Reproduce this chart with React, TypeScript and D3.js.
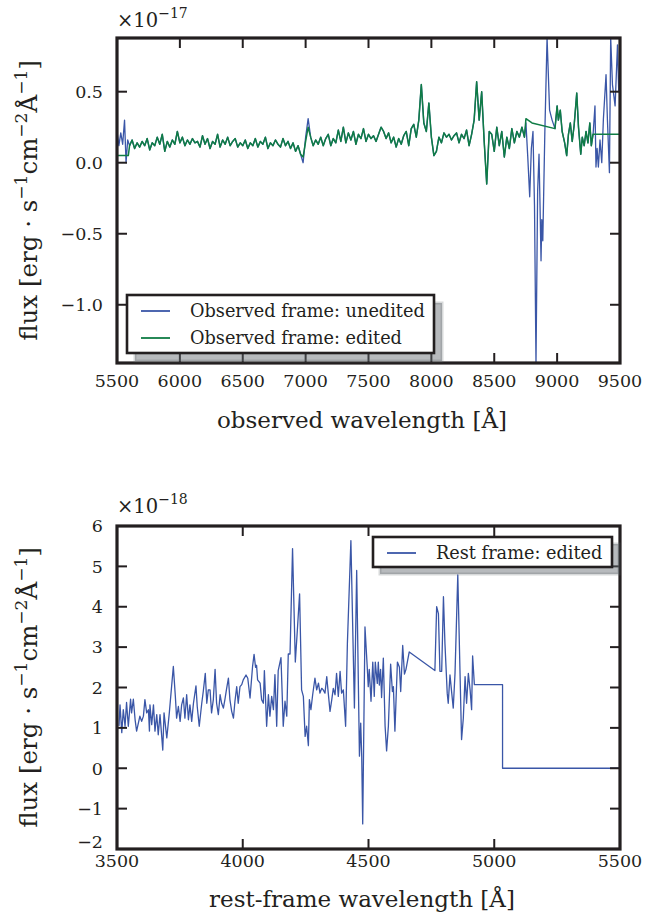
import React from 'react';
import * as d3 from 'd3';

const FONT = "'DejaVu Serif', serif";
const INK = '#231f20';
const BLUE = '#3a56a7';
const GREEN = '#0f7c45';

// ---------- top panel (flux in units of 1e-17) ----------
const obsXTicks = [5500, 6000, 6500, 7000, 7500, 8000, 8500, 9000, 9500];
const obsYTicks = [-1.0, -0.5, 0.0, 0.5];
const obsYDomain = [-1.41, 0.878];

const obsHeadBlue = [[5500, 0.22], [5515, 0.12], [5530, 0.21], [5545, 0.13], [5560, 0.30], [5572, 0.0], [5585, 0.16]];
const obsHeadGreen = [[5500, 0.05], [5590, 0.05]];

const obsShared = [
  [5600, 0.12], [5620, 0.16], [5640, 0.10], [5660, 0.14], [5680, 0.11], [5700, 0.15], [5720, 0.12], [5740, 0.17],
  [5760, 0.09], [5780, 0.14], [5800, 0.12], [5820, 0.18], [5840, 0.13], [5860, 0.20], [5880, 0.08], [5900, 0.15],
  [5920, 0.11], [5940, 0.16], [5960, 0.13], [5980, 0.22], [6000, 0.14], [6020, 0.18], [6040, 0.12], [6060, 0.16],
  [6080, 0.13], [6100, 0.17], [6120, 0.14], [6140, 0.15], [6160, 0.11], [6180, 0.19], [6200, 0.13], [6220, 0.17],
  [6240, 0.10], [6260, 0.15], [6280, 0.13], [6300, 0.20], [6320, 0.11], [6340, 0.16], [6360, 0.13], [6380, 0.18],
  [6400, 0.12], [6420, 0.15], [6440, 0.17], [6460, 0.11], [6480, 0.14], [6500, 0.12], [6520, 0.16], [6540, 0.10],
  [6560, 0.14], [6580, 0.12], [6600, 0.17], [6620, 0.11], [6640, 0.15], [6660, 0.13], [6680, 0.18], [6700, 0.10],
  [6720, 0.14], [6740, 0.12], [6760, 0.16], [6780, 0.13], [6800, 0.11], [6820, 0.17], [6840, 0.12], [6860, 0.15],
  [6880, 0.10], [6900, 0.14], [6920, 0.08], [6940, 0.12], [6960, 0.06], [6980, 0.04], [7000, 0.15], [7020, 0.25],
  [7040, 0.18], [7060, 0.12], [7080, 0.16], [7100, 0.13], [7120, 0.18], [7140, 0.12], [7160, 0.17], [7180, 0.20],
  [7200, 0.12], [7220, 0.17], [7240, 0.14], [7260, 0.23], [7280, 0.15], [7300, 0.25], [7320, 0.14], [7340, 0.21],
  [7360, 0.16], [7380, 0.22], [7400, 0.13], [7420, 0.20], [7440, 0.17], [7460, 0.24], [7480, 0.15], [7500, 0.20],
  [7520, 0.17], [7540, 0.19], [7560, 0.15], [7580, 0.20], [7600, 0.25], [7620, 0.22], [7640, 0.17], [7660, 0.21],
  [7680, 0.14], [7700, 0.18], [7720, 0.11], [7740, 0.17], [7760, 0.13], [7780, 0.19], [7800, 0.22], [7820, 0.12],
  [7840, 0.24], [7860, 0.27], [7880, 0.18], [7900, 0.30], [7920, 0.55], [7940, 0.28], [7960, 0.22], [7980, 0.42],
  [8000, 0.18], [8020, 0.05], [8040, 0.08], [8060, 0.18], [8080, 0.14], [8100, 0.21], [8120, 0.18], [8140, 0.20],
  [8160, 0.16], [8180, 0.19], [8200, 0.21], [8220, 0.14], [8240, 0.20], [8260, 0.17], [8280, 0.23], [8300, 0.12],
  [8320, 0.20], [8340, 0.30], [8360, 0.57], [8380, 0.30], [8400, 0.50], [8420, 0.15], [8440, -0.15], [8460, 0.22],
  [8480, 0.20], [8500, 0.08], [8520, 0.25], [8540, 0.12], [8560, 0.22], [8580, 0.04], [8600, 0.18], [8620, 0.10],
  [8640, 0.24], [8660, 0.14], [8680, 0.22], [8700, 0.18], [8720, 0.25], [8740, 0.18],
];
const obsBlueFix = [[6980, 0.0], [7000, 0.18], [7020, 0.31]];

const obsGapBlue = [
  [8752, 0.28], [8766, 0.05], [8782, -0.24], [8795, 0.10], [8808, 0.22], [8820, -0.30], [8832, -1.41], [8845, -0.20],
  [8856, 0.06], [8864, -0.30], [8872, -0.69], [8878, -0.40], [8886, -0.55], [8902, 0.20], [8920, 0.88], [8940, 0.37],
  [8960, 0.30], [8983, 0.24],
];
const obsGapGreen = [[8752, 0.31], [8800, 0.28], [8983, 0.24]];

const obsMid = [
  [9000, 0.40], [9010, 0.30], [9025, 0.37], [9040, 0.22], [9060, 0.14], [9076, 0.05], [9090, 0.20], [9105, 0.28],
  [9120, 0.15], [9135, 0.26], [9156, 0.49], [9170, 0.25], [9188, 0.06], [9200, 0.18], [9215, 0.12], [9230, 0.22],
  [9245, 0.14], [9260, 0.28], [9272, 0.12],
];
const obsEndBlue = [
  [9286, 0.20], [9301, 0.40], [9309, -0.03], [9318, 0.10], [9328, -0.03], [9341, 0.16], [9355, 0.0], [9368, 0.31],
  [9389, 0.62], [9400, 0.30], [9416, -0.07], [9426, 0.88], [9440, 0.55], [9461, 0.40], [9480, 0.83], [9490, 0.50],
  [9500, 0.65],
];
const obsEndGreen = [[9285, 0.20], [9500, 0.20]];

// ---------- bottom panel (flux in units of 1e-18) ----------
const restXTicks = [3500, 4000, 4500, 5000, 5500];
const restYTicks = [-2, -1, 0, 1, 2, 3, 4, 5, 6];
const restYDomain = [-2, 6];
const restSpectrum = [
  [3508, 1.05], [3512, 1.57], [3519, 0.88], [3525, 1.45], [3532, 1.04], [3538, 1.63], [3545, 1.04], [3554, 1.71],
  [3558, 1.37], [3565, 1.71], [3572, 1.20], [3578, 0.92], [3591, 1.29], [3598, 1.16], [3605, 1.29], [3611, 1.70],
  [3618, 1.37], [3625, 1.45], [3629, 0.92], [3631, 1.57], [3638, 1.08], [3645, 1.57], [3651, 0.92], [3658, 1.33],
  [3664, 0.83], [3671, 1.33], [3682, 0.45], [3687, 1.37], [3698, 0.75], [3708, 1.37], [3724, 2.52], [3732, 1.78],
  [3737, 1.24], [3744, 1.53], [3751, 1.16], [3757, 1.57], [3764, 1.74], [3770, 1.24], [3777, 1.82], [3784, 1.20],
  [3790, 1.57], [3797, 1.16], [3804, 1.61], [3814, 2.04], [3819, 1.53], [3827, 1.04], [3837, 1.61], [3843, 1.90],
  [3851, 2.35], [3857, 1.61], [3863, 1.94], [3870, 1.94], [3876, 1.37], [3883, 1.70], [3890, 2.45], [3896, 1.61],
  [3903, 1.33], [3910, 1.82], [3916, 1.61], [3923, 1.49], [3929, 1.70], [3936, 1.98], [3943, 2.23], [3949, 1.70],
  [3956, 1.41], [3963, 1.24], [3969, 1.66], [3976, 2.02], [3982, 1.61], [3989, 2.02], [3996, 2.07], [4002, 2.19],
  [4013, 2.31], [4020, 2.23], [4029, 1.74], [4039, 2.52], [4045, 2.82], [4051, 2.50], [4055, 2.55], [4059, 2.19],
  [4069, 2.11], [4075, 1.70], [4082, 1.61], [4086, 2.42], [4095, 1.04], [4102, 1.82], [4108, 1.29], [4115, 1.78],
  [4122, 1.45], [4128, 2.32], [4135, 1.04], [4141, 2.42], [4152, 2.74], [4161, 1.04], [4168, 1.66], [4175, 1.29],
  [4181, 2.83], [4188, 2.83], [4198, 5.44], [4209, 2.63], [4217, 3.41], [4226, 4.32], [4234, 1.94], [4241, 1.78],
  [4248, 0.79], [4254, 1.04], [4261, 0.56], [4265, 1.70], [4271, 1.45], [4278, 1.82], [4287, 2.23], [4294, 1.94],
  [4301, 2.11], [4307, 1.86], [4314, 1.98], [4320, 1.94], [4327, 1.86], [4334, 2.27], [4340, 1.86], [4347, 1.41],
  [4354, 1.70], [4360, 1.98], [4367, 1.82], [4373, 2.35], [4380, 1.78], [4387, 2.40], [4393, 1.86], [4400, 1.94],
  [4409, 1.04], [4416, 3.08], [4430, 5.64], [4444, 1.49], [4453, 4.90], [4464, 0.30], [4469, 1.12], [4473, 0.30],
  [4477, -1.38], [4486, 3.50], [4495, 2.50], [4499, 2.02], [4503, 2.45], [4510, 1.66], [4517, 2.63], [4523, 1.78],
  [4527, 2.63], [4535, 2.10], [4539, 2.63], [4543, 2.06], [4548, 2.45], [4552, 1.75], [4559, 2.73], [4566, 1.04],
  [4572, 0.43], [4579, 1.04], [4588, 2.58], [4595, 1.90], [4599, 2.02], [4605, 0.92], [4615, 2.63], [4623, 2.50],
  [4628, 1.90], [4636, 3.04], [4643, 2.33], [4649, 2.45], [4662, 2.88], [4764, 2.42], [4771, 4.00], [4778, 3.83],
  [4784, 2.40], [4791, 2.40], [4798, 4.25], [4804, 3.08], [4813, 1.86], [4817, 1.61], [4824, 2.31], [4831, 1.86],
  [4837, 1.49], [4844, 2.35], [4855, 4.79], [4870, 0.71], [4877, 1.24], [4884, 2.27], [4890, 1.61], [4897, 2.35],
  [4904, 1.94], [4910, 1.45], [4914, 2.78], [4921, 2.07], [5033, 2.07], [5033, 0.0], [5500, 0.0],
];

const fmtMinus = (s: string) => s.replace('-', '\u2212');

type Rect = { left: number; right: number; top: number; bottom: number };
type Series = { data: number[][]; color: string; width: number };
type LegendSpec = { x: number; y: number; w: number; h: number; shadow: number; items: { label: string; color: string }[] };

function Panel(props: {
  id: string;
  rect: Rect;
  xDomain: number[];
  yDomain: number[];
  xTicks: number[];
  yTicks: number[];
  yFmt: (v: number) => string;
  series: Series[];
  xTickBaseline: number;
  xlabel: string;
  xlabelBaseline: number;
  exponent: string;
  expBaseline: number;
  legend: LegendSpec;
}) {
  const { id, rect, xDomain, yDomain, xTicks, yTicks, yFmt, series, legend } = props;
  const x = d3.scaleLinear().domain(xDomain).range([rect.left, rect.right]);
  const y = d3.scaleLinear().domain(yDomain).range([rect.bottom, rect.top]);
  const line = d3.line<number[]>().x((d) => x(d[0])).y((d) => y(d[1]));
  const TL = 10;
  const cy = (rect.top + rect.bottom) / 2;
  const sup = 17;
  const sh = 10;
  return (
    <g>
      <defs>
        <clipPath id={id}>
          <rect x={rect.left} y={rect.top} width={rect.right - rect.left} height={rect.bottom - rect.top} />
        </clipPath>
      </defs>
      <g clipPath={`url(#${id})`}>
        {series.map((s, i) => (
          <path key={i} d={line(s.data) || ''} fill="none" stroke={s.color} strokeWidth={s.width} strokeLinejoin="round" />
        ))}
      </g>
      {/* ticks */}
      {xTicks.map((t) => (
        <g key={'xt' + t}>
          <line x1={x(t)} x2={x(t)} y1={rect.bottom} y2={rect.bottom - TL} stroke={INK} strokeWidth={2} />
          <line x1={x(t)} x2={x(t)} y1={rect.top} y2={rect.top + TL} stroke={INK} strokeWidth={2} />
          <text x={x(t)} y={props.xTickBaseline} textAnchor="middle" fontSize={17.5} fontFamily={FONT} fill={INK}>
            {t}
          </text>
        </g>
      ))}
      {yTicks.map((t) => (
        <g key={'yt' + t}>
          <line x1={rect.left} x2={rect.left + TL} y1={y(t)} y2={y(t)} stroke={INK} strokeWidth={2} />
          <line x1={rect.right} x2={rect.right - TL} y1={y(t)} y2={y(t)} stroke={INK} strokeWidth={2} />
          <text
            x={103}
            y={Math.min(y(t), rect.bottom - 7)}
            dy="0.36em"
            textAnchor="end"
            fontSize={17.5}
            fontFamily={FONT}
            fill={INK}
          >
            {yFmt(t)}
          </text>
        </g>
      ))}
      <rect x={rect.left} y={rect.top} width={rect.right - rect.left} height={rect.bottom - rect.top} fill="none" stroke={INK} strokeWidth={3.2} />
      {/* exponent */}
      <text x={rect.left} y={props.expBaseline} fontSize={19.5} fontFamily={FONT} fill={INK}>
        {'\u00d710'}
        <tspan dy={-9} fontSize={14}>{props.exponent}</tspan>
      </text>
      {/* x label */}
      <text x={362} y={props.xlabelBaseline} textAnchor="middle" fontSize={23} fontFamily={FONT} fill={INK}>
        {props.xlabel}
      </text>
      {/* y label */}
      <text transform={`translate(37,${cy}) rotate(-90)`} textAnchor="middle" fontSize={24.5} fontFamily={FONT} fill={INK}>
        {'flux [erg \u00b7 s'}
        <tspan dy={-sh} fontSize={sup}>{'\u22121'}</tspan>
        <tspan dy={sh}>cm</tspan>
        <tspan dy={-sh} fontSize={sup}>{'\u22122'}</tspan>
        <tspan dy={sh}>{'\u00c5'}</tspan>
        <tspan dy={-sh} fontSize={sup}>{'\u22121'}</tspan>
        <tspan dy={sh}>]</tspan>
      </text>
      {/* legend */}
      <g>
        <rect
          x={legend.x + legend.shadow}
          y={legend.y + legend.shadow}
          width={legend.w}
          height={legend.h}
          fill="#5f666d"
          fillOpacity={0.45}
          stroke="#5f666d"
          strokeOpacity={0.25}
          strokeWidth={3}
        />
        <rect x={legend.x} y={legend.y} width={legend.w} height={legend.h} fill="#ffffff" stroke={INK} strokeWidth={2.6} />
        {legend.items.map((it, i) => (
          <g key={it.label}>
            <line
              x1={legend.x + 14}
              x2={legend.x + 43}
              y1={legend.y + 16 + i * 27}
              y2={legend.y + 16 + i * 27}
              stroke={it.color}
              strokeWidth={1.8}
            />
            <text x={legend.x + 63} y={legend.y + 22 + i * 27} fontSize={17.7} fontFamily={FONT} fill={INK}>
              {it.label}
            </text>
          </g>
        ))}
      </g>
    </g>
  );
}

export default function App() {
  const blueFixMap = new Map(obsBlueFix.map((d) => [d[0], d[1]]));
  const obsUnedited = [
    ...obsHeadBlue,
    ...obsShared.map((d) => (blueFixMap.has(d[0]) ? [d[0], blueFixMap.get(d[0]) as number] : d)),
    ...obsGapBlue,
    ...obsMid,
    ...obsEndBlue,
  ];
  const obsEdited = [...obsHeadGreen, ...obsShared, ...obsGapGreen, ...obsMid, ...obsEndGreen];

  return (
    <svg width={648} height={921} style={{ position: 'absolute', left: 0, top: 0, background: '#fff' }}>
      <rect x={0} y={0} width={648} height={921} fill="#fff" />
      <Panel
        id="clipTop"
        rect={{ left: 117, right: 620, top: 38, bottom: 363 }}
        xDomain={[5500, 9500]}
        yDomain={obsYDomain}
        xTicks={obsXTicks}
        yTicks={obsYTicks}
        yFmt={(v) => fmtMinus(v.toFixed(1))}
        series={[
          { data: obsUnedited, color: BLUE, width: 1.3 },
          { data: obsEdited, color: GREEN, width: 1.5 },
        ]}
        xTickBaseline={387}
        xlabel={'observed wavelength [\u00c5]'}
        xlabelBaseline={428}
        exponent={'\u221217'}
        expBaseline={27}
        legend={{
          x: 127,
          y: 295,
          w: 307,
          h: 58,
          shadow: 8,
          items: [
            { label: 'Observed frame: unedited', color: BLUE },
            { label: 'Observed frame: edited', color: GREEN },
          ],
        }}
      />
      <Panel
        id="clipBot"
        rect={{ left: 117, right: 620, top: 526, bottom: 849 }}
        xDomain={[3500, 5500]}
        yDomain={restYDomain}
        xTicks={restXTicks}
        yTicks={restYTicks}
        yFmt={(v) => fmtMinus(String(v))}
        series={[{ data: restSpectrum, color: BLUE, width: 1.3 }]}
        xTickBaseline={867}
        xlabel={'rest-frame wavelength [\u00c5]'}
        xlabelBaseline={907}
        exponent={'\u221218'}
        expBaseline={513}
        legend={{
          x: 373,
          y: 537,
          w: 239,
          h: 30,
          shadow: 7,
          items: [{ label: 'Rest frame: edited', color: BLUE }],
        }}
      />
    </svg>
  );
}
